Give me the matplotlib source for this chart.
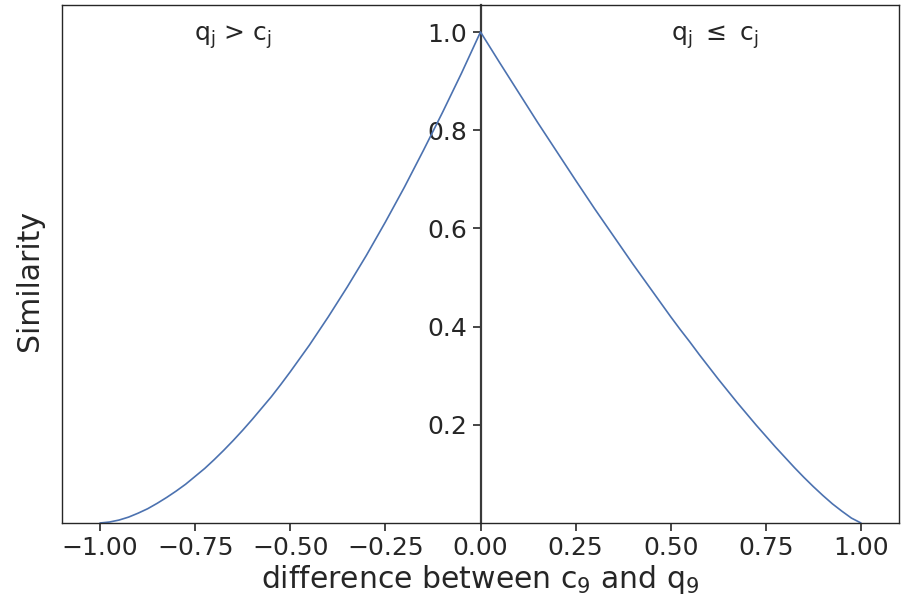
import matplotlib
matplotlib.use('Agg')
import matplotlib.pyplot as plt
import seaborn as sns

# similarity curve, left branch (q > c) and right branch (q <= c)
x_left = [-1.0, -0.975, -0.95, -0.925, -0.9, -0.875, -0.85, -0.825, -0.8, -0.775,
          -0.75, -0.725, -0.7, -0.675, -0.65, -0.625, -0.6, -0.575, -0.55, -0.525,
          -0.5, -0.45, -0.4, -0.35, -0.3, -0.25, -0.2, -0.15, -0.1, -0.05, 0.0]
y_left = [0.0, 0.002, 0.006, 0.012, 0.020, 0.029, 0.040, 0.052, 0.065, 0.079,
          0.095, 0.111, 0.129, 0.148, 0.168, 0.189, 0.211, 0.234, 0.257, 0.282,
          0.308, 0.362, 0.420, 0.481, 0.545, 0.613, 0.684, 0.759, 0.836, 0.916, 1.0]

x_right = [0.0, 0.05, 0.1, 0.15, 0.2, 0.25, 0.3, 0.35, 0.4, 0.45, 0.5,
           0.525, 0.55, 0.575, 0.6, 0.625, 0.65, 0.675, 0.7, 0.725, 0.75,
           0.775, 0.8, 0.825, 0.85, 0.875, 0.9, 0.925, 0.95, 0.975, 1.0]
y_right = [1.0, 0.938, 0.877, 0.816, 0.757, 0.698, 0.640, 0.584, 0.528, 0.474, 0.420,
           0.394, 0.369, 0.343, 0.318, 0.293, 0.269, 0.245, 0.222, 0.199, 0.177,
           0.155, 0.134, 0.113, 0.093, 0.074, 0.056, 0.039, 0.024, 0.010, 0.0]

xticks = [-1.0, -0.75, -0.5, -0.25, 0.0, 0.25, 0.5, 0.75, 1.0]
yticks = [0.2, 0.4, 0.6, 0.8, 1.0]

sns.set_style('ticks')
plt.rcParams['font.family'] = ['DejaVu Sans']

fig = plt.figure(figsize=(9.16, 6.01), dpi=100)
ax = fig.add_axes([62 / 916, 1 - 523 / 601, 837 / 916, 518 / 601])

ax.plot(x_left + x_right[1:], y_left + y_right[1:], color='#4C72B0', lw=1.2)

ax.set_xlim(-1.1, 1.1)
ax.set_ylim(0, 1.055)
ax.set_xticks(xticks)
ax.tick_params(axis='x', labelsize=18, length=6, width=1.2, colors='.15')
ax.set_yticks([])
for s in ax.spines.values():
    s.set_color('.15')
    s.set_linewidth(1.0)

# y axis drawn through x = 0
sec = ax.secondary_yaxis(0.5)
sec.yaxis.set_ticks_position('left')
sec.set_yticks(yticks)
sec.tick_params(labelsize=18, length=6, width=1.2, colors='.15',
                left=True, labelleft=True, right=False, labelright=False)
for side in ('left', 'right'):
    sec.spines[side].set_color('#3a3a3a')
    sec.spines[side].set_linewidth(1.6)

ax.set_xlabel('difference between c$_9$ and q$_9$', fontsize=21.5, color='.15', labelpad=2)
ax.set_ylabel('Similarity', fontsize=21.5, color='.15', labelpad=13)
ax.yaxis.label.set_y(0.469)

ax.text(-0.65, 0.99, r'q$_\mathrm{j}$ > c$_\mathrm{j}$', fontsize=18, color='.15',
        ha='center', va='center')
ax.text(0.615, 0.99, r'q$_\mathrm{j}$ $\leq$ c$_\mathrm{j}$', fontsize=18, color='.15',
        ha='center', va='center')

fig.savefig('out.png', dpi=100)
